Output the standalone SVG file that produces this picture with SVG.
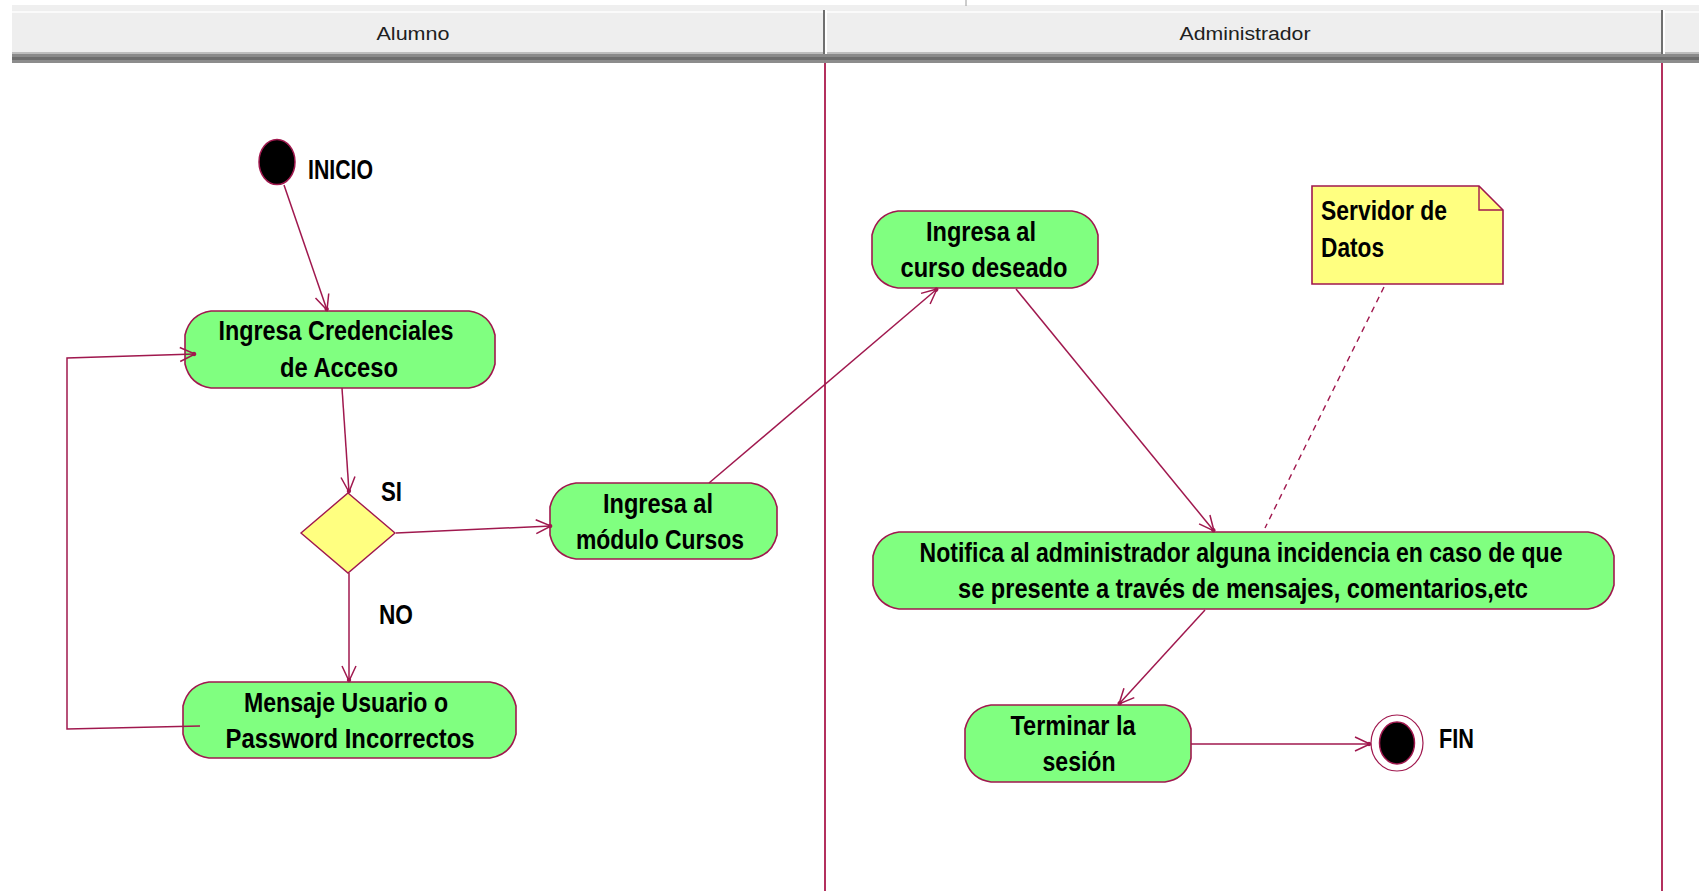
<svg xmlns="http://www.w3.org/2000/svg" width="1699" height="891" viewBox="0 0 1699 891">
  <style>
    .hdr { fill: #eeeeee; }
    .hdrtxt { font-family: "Liberation Sans", Arial, sans-serif; font-size: 18px; fill: #202020; text-anchor: middle; }
    .lane { stroke: #b3305e; stroke-width: 2; }
    .act { fill: #80ff80; stroke: #a0184e; stroke-width: 1.6; }
    .dec { fill: #ffff80; stroke: #a0184e; stroke-width: 1.4; }
    .note { fill: #ffff80; stroke: #a0184e; stroke-width: 1.6; }
    .t { font-family: "Liberation Sans", Arial, sans-serif; font-weight: bold; font-size: 27px; fill: #000; text-anchor: middle; }
    .lbl { font-family: "Liberation Sans", Arial, sans-serif; font-weight: bold; font-size: 27px; fill: #000; }
    .edge { fill: none; stroke: #a0184e; stroke-width: 1.5; }
    .dash { fill: none; stroke: #a0184e; stroke-width: 1.4; stroke-dasharray: 6 5; }
  </style>
  <defs>
    <marker id="arr" markerUnits="userSpaceOnUse" markerWidth="30" markerHeight="30" viewBox="-20 -15 30 30" refX="0" refY="0" orient="auto">
      <path d="M-15,-7 L0,0 L-15,7" fill="none" stroke="#a0184e" stroke-width="1.5"/>
      <circle cx="-1" cy="0" r="2.2" fill="#a0184e"/>
    </marker>
  </defs>

  <rect width="1699" height="891" fill="#ffffff"/>

  <!-- swimlane header -->
  <g id="header">
    <rect x="12" y="5" width="1687" height="5" fill="#efefef"/>
    <line x1="966" y1="0" x2="966" y2="6" stroke="#9a9a9a" stroke-width="1"/>
    <rect x="12" y="10" width="1687" height="42" class="hdr"/>
    <rect x="12" y="11" width="1687" height="2" fill="#fafafa"/>
    <rect x="12" y="52" width="1687" height="2" fill="#bdbdbd"/>
    <rect x="12" y="54" width="1687" height="3" fill="#8a8a8a"/>
    <rect x="12" y="57" width="1687" height="3" fill="#6e6e6e"/>
    <rect x="12" y="60" width="1687" height="3" fill="#8c8c8c"/>
    <rect x="823" y="10" width="2" height="44" fill="#6f6f6f"/>
    <rect x="825" y="10" width="2" height="44" fill="#ffffff"/>
    <rect x="1661" y="10" width="2" height="44" fill="#6f6f6f"/>
    <rect x="1663" y="10" width="2" height="44" fill="#ffffff"/>
    <text class="hdrtxt" x="413" y="40" textLength="73" lengthAdjust="spacingAndGlyphs">Alumno</text>
    <text class="hdrtxt" x="1245" y="40" textLength="131" lengthAdjust="spacingAndGlyphs">Administrador</text>
  </g>

  <!-- lane separators -->
  <g id="lanes">
    <line class="lane" x1="825" y1="63" x2="825" y2="891"/>
    <line class="lane" x1="1662" y1="63" x2="1662" y2="891"/>
  </g>

  <!-- start -->
  <g id="inicio">
    <ellipse cx="277" cy="162" rx="18" ry="22.5" fill="#000" stroke="#a0184e" stroke-width="1.5"/>
    <text class="lbl" x="308" y="179" textLength="65" lengthAdjust="spacingAndGlyphs">INICIO</text>
  </g>

  <g id="credenciales">
    <path class="act" d="M211,311 H469 Q490,314 495,335 V364 Q490,385 469,388 H211 Q190,385 185,364 V335 Q190,314 211,311 Z"/>
    <text class="t" x="336" y="340" textLength="235" lengthAdjust="spacingAndGlyphs">Ingresa Credenciales</text>
    <text class="t" x="339" y="377" textLength="118" lengthAdjust="spacingAndGlyphs">de Acceso</text>
  </g>

  <g id="decision">
    <polygon class="dec" points="348,493 395,533 348,573 301,533"/>
    <text class="lbl" x="381" y="501" textLength="21" lengthAdjust="spacingAndGlyphs">SI</text>
    <text class="lbl" x="379" y="624" textLength="34" lengthAdjust="spacingAndGlyphs">NO</text>
  </g>

  <g id="mensaje">
    <path class="act" d="M209,682 H490 Q511,685 516,706 V734 Q511,755 490,758 H209 Q188,755 183,734 V706 Q188,685 209,682 Z"/>
    <text class="t" x="346" y="712" textLength="204" lengthAdjust="spacingAndGlyphs">Mensaje Usuario o</text>
    <text class="t" x="350" y="748" textLength="249" lengthAdjust="spacingAndGlyphs">Password Incorrectos</text>
  </g>

  <g id="modulo">
    <path class="act" d="M576,483 H751 Q772,486 777,507 V535 Q772,556 751,559 H576 Q555,556 550,535 V507 Q555,486 576,483 Z"/>
    <text class="t" x="658" y="513" textLength="110" lengthAdjust="spacingAndGlyphs">Ingresa al</text>
    <text class="t" x="660" y="549" textLength="168" lengthAdjust="spacingAndGlyphs">módulo Cursos</text>
  </g>

  <g id="curso">
    <path class="act" d="M898,211 H1072 Q1093,214 1098,235 V264 Q1093,285 1072,288 H898 Q877,285 872,264 V235 Q877,214 898,211 Z"/>
    <text class="t" x="981" y="241" textLength="110" lengthAdjust="spacingAndGlyphs">Ingresa al</text>
    <text class="t" x="984" y="277" textLength="167" lengthAdjust="spacingAndGlyphs">curso deseado</text>
  </g>

  <g id="servidor">
    <path class="note" d="M1312,186 H1479 L1503,210 V284 H1312 Z"/>
    <path d="M1479,186 V210 H1503" fill="none" stroke="#a0184e" stroke-width="1.4"/>
    <text class="lbl" x="1321" y="220" textLength="126" lengthAdjust="spacingAndGlyphs">Servidor de</text>
    <text class="lbl" x="1321" y="257" textLength="63" lengthAdjust="spacingAndGlyphs">Datos</text>
  </g>

  <g id="notifica">
    <path class="act" d="M899,532 H1588 Q1609,535 1614,556 V585 Q1609,606 1588,609 H899 Q878,606 873,585 V556 Q878,535 899,532 Z"/>
    <text class="t" x="1241" y="562" textLength="643" lengthAdjust="spacingAndGlyphs">Notifica al administrador alguna incidencia en caso de que</text>
    <text class="t" x="1243" y="598" textLength="570" lengthAdjust="spacingAndGlyphs">se presente a través de mensajes, comentarios,etc</text>
  </g>

  <g id="terminar">
    <path class="act" d="M991,705 H1165 Q1186,708 1191,729 V758 Q1186,779 1165,782 H991 Q970,779 965,758 V729 Q970,708 991,705 Z"/>
    <text class="t" x="1073" y="735" textLength="125" lengthAdjust="spacingAndGlyphs">Terminar la</text>
    <text class="t" x="1079" y="771" textLength="73" lengthAdjust="spacingAndGlyphs">sesión</text>
  </g>

  <g id="fin">
    <ellipse cx="1397" cy="743" rx="26" ry="28" fill="#fff" stroke="#a0184e" stroke-width="1.2"/>
    <ellipse cx="1397" cy="743" rx="17.5" ry="21" fill="#000" stroke="#a0184e" stroke-width="1.5"/>
    <text class="lbl" x="1439" y="748" textLength="35" lengthAdjust="spacingAndGlyphs">FIN</text>
  </g>

  <!-- transitions -->
  <g id="connectors">
    <line class="edge" x1="284" y1="185" x2="327" y2="310" marker-end="url(#arr)"/>
    <line class="edge" x1="342" y1="388" x2="349" y2="492" marker-end="url(#arr)"/>
    <line class="edge" x1="396" y1="533" x2="551" y2="526" marker-end="url(#arr)"/>
    <line class="edge" x1="349" y1="573" x2="349" y2="681" marker-end="url(#arr)"/>
    <polyline class="edge" points="200,726 67,729 67,358 195,354" marker-end="url(#arr)"/>
    <line class="edge" x1="709" y1="483" x2="937" y2="289" marker-end="url(#arr)"/>
    <line class="edge" x1="1016" y1="289" x2="1214" y2="531" marker-end="url(#arr)"/>
    <line class="dash" x1="1384" y1="287" x2="1265" y2="528"/>
    <line class="edge" x1="1205" y1="610" x2="1119" y2="704" marker-end="url(#arr)"/>
    <line class="edge" x1="1191" y1="744" x2="1370" y2="744" marker-end="url(#arr)"/>
  </g>
</svg>
